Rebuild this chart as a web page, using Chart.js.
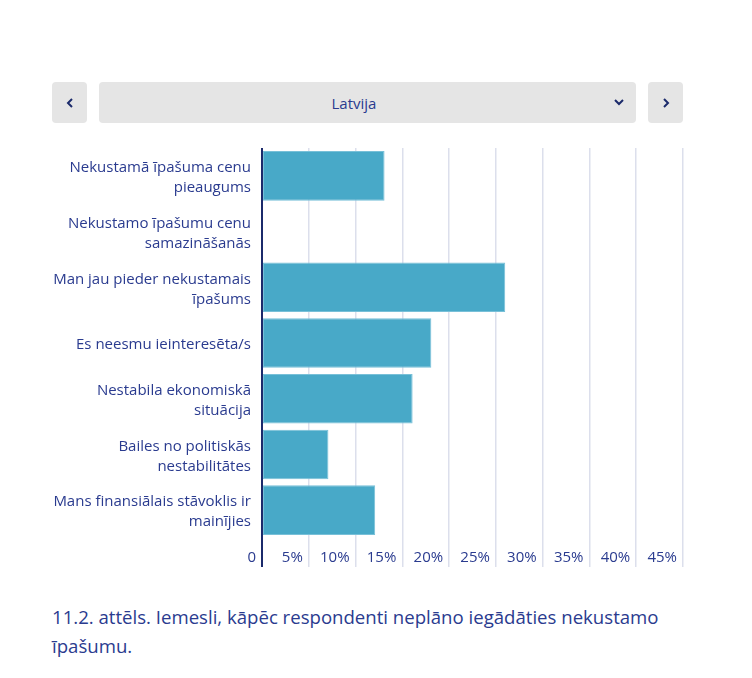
<!DOCTYPE html>
<html>
<head>
<meta charset="utf-8">
<script src="https://cdn.jsdelivr.net/npm/chart.js@4"></script>
<style>
  body { margin: 0; background: #fff; font-family: "Open Sans", sans-serif; color: #2a3b8f; }
  .wrap { position: absolute; left: 52px; top: 0; width: 631px; }
  .nav { position: absolute; top: 82px; height: 41px; background: #e5e5e5; border-radius: 4px;
         display: flex; align-items: center; justify-content: center; box-sizing: border-box; }
  .nav svg { display: block; }
  #prev { left: 0; width: 35px; }
  #sel { left: 47px; width: 537px; font-size: 15px; padding-right: 27px; }
  #sel svg { position: absolute; right: 12px; top: 17px; }
  #next { left: 596px; width: 35px; }
  .box { position: absolute; left: 0; top: 140px; width: 634px; height: 430px; }
  .caption { position: absolute; left: 0; top: 602px; width: 631px; font-size: 18.6px; line-height: 29px; }
</style>
</head>
<body>
<div class="wrap">
  <div class="nav" id="prev"><svg width="8" height="10"><polyline points="6,1 2,5 6,9" fill="none" stroke="#1b2a6b" stroke-width="2"/></svg></div>
  <div class="nav" id="sel">Latvija<svg width="10" height="7"><polyline points="1,1 5,5 9,1" fill="none" stroke="#1b2a6b" stroke-width="2"/></svg></div>
  <div class="nav" id="next"><svg width="8" height="10"><polyline points="2,1 6,5 2,9" fill="none" stroke="#1b2a6b" stroke-width="2"/></svg></div>
  <div class="box"><canvas id="barChart"></canvas></div>
  <div class="caption">11.2. attēls. Iemesli, kāpēc respondenti neplāno iegādāties nekustamo īpašumu.</div>
</div>
<script>
// data
const categories = [
    ['Nekustamā īpašuma cenu', 'pieaugums'],
    ['Nekustamo īpašumu cenu', 'samazināšanās'],
    ['Man jau pieder nekustamais', 'īpašums'],
    ['Es neesmu ieinteresēta/s'],
    ['Nestabila ekonomiskā', 'situācija'],
    ['Bailes no politiskās', 'nestabilitātes'],
    ['Mans finansiālais stāvoklis ir', 'mainījies']
];
const shares = [13.1, 0, 26.0, 18.1, 16.1, 7.1, 12.1];
const xTickLabels = ['0', '5%', '10%', '15%', '20%', '25%', '30%', '35%', '40%', '45%'];

const navy = '#2a3b8f';

document.addEventListener("DOMContentLoaded", function() {
    const ctx = document.getElementById('barChart').getContext('2d');
    new Chart(ctx, {
        type: 'bar',
        data: {
            labels: categories,
            datasets: [{
                data: shares,
                backgroundColor: '#48a9c8',
                borderColor: '#78c0d8',
                borderWidth: 1,
                borderSkipped: false,
                barPercentage: 0.89,
                categoryPercentage: 1
            }]
        },
        options: {
            indexAxis: 'y',
            responsive: true,
            maintainAspectRatio: false,
            animation: false,
            layout: { padding: { top: 8, right: 3 } },
            plugins: {
                legend: { display: false },
                tooltip: { enabled: false }
            },
            scales: {
                x: {
                    min: 0,
                    max: 45,
                    border: { display: false },
                    afterFit: (scale) => { scale.height = 32; scale.paddingLeft = 0; scale.paddingRight = 0; },
                    grid: {
                        tickLength: 29,
                        color: (c) => c.index === 0 ? '#1b2a6b' : '#dcdfec',
                        lineWidth: (c) => c.index === 0 ? 2 : 1.5
                    },
                    ticks: {
                        stepSize: 5,
                        align: 'end',
                        labelOffset: -6,
                        padding: -18,
                        color: navy,
                        font: { family: 'Open Sans', size: 15 },
                        callback: (v, i) => xTickLabels[i]
                    }
                },
                y: {
                    border: { display: false },
                    afterFit: (scale) => { scale.width = 210; scale.paddingTop = 0; scale.paddingBottom = 0; },
                    grid: { display: false, drawTicks: false },
                    ticks: {
                        padding: 11,
                        labelOffset: 2,
                        color: navy,
                        font: { family: 'Open Sans', size: 15, lineHeight: 1.33 }
                    }
                }
            }
        }
    });
});
</script>
</body>
</html>
